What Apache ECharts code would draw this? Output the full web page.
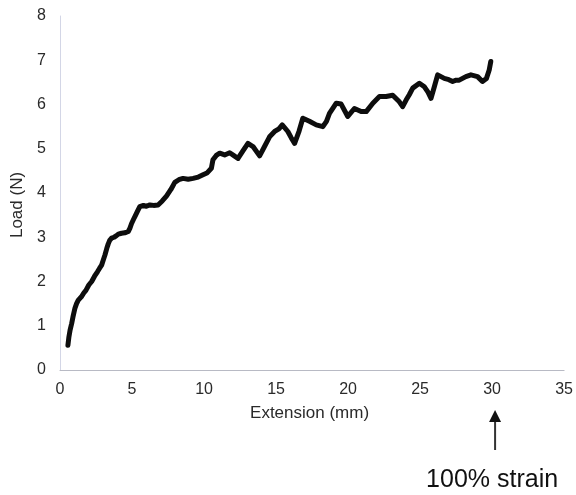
<!DOCTYPE html>
<html>
<head>
<meta charset="utf-8">
<script src="https://cdn.jsdelivr.net/npm/echarts@6/dist/echarts.min.js"></script>
<style>html,body{margin:0;padding:0;background:#fff;}#c{width:576px;height:495px;}</style>
</head>
<body>
<div id="c"></div>
<script>
const extension = [0.55,0.62,0.7,0.81,0.9,1.04,1.15,1.27,1.4,1.5,1.65,1.8,2.0,2.2,2.4,2.6,2.75,2.89,3.0,3.12,3.25,3.35,3.45,3.58,3.75,3.9,4.05,4.27,4.5,4.74,4.85,4.97,5.1,5.25,5.4,5.54,5.8,6.0,6.24,6.5,6.81,7.1,7.39,7.7,7.97,8.25,8.54,8.9,9.24,9.6,9.93,10.2,10.51,10.62,10.85,11.09,11.43,11.78,12.05,12.36,12.7,13.05,13.4,13.86,14.2,14.55,14.9,15.2,15.43,15.82,16.05,16.29,16.6,16.86,17.32,17.79,18.25,18.5,18.71,19.18,19.52,19.98,20.44,20.91,21.26,21.72,22.18,22.64,23.1,23.56,23.79,24.03,24.25,24.49,24.95,25.3,25.55,25.76,25.99,26.22,26.68,27.0,27.26,27.5,27.72,28.18,28.53,28.99,29.33,29.61,29.8,29.91];
const load = [0.56,0.75,0.9,1.05,1.2,1.4,1.5,1.58,1.62,1.66,1.74,1.8,1.92,2.0,2.12,2.22,2.3,2.37,2.48,2.6,2.75,2.85,2.93,2.98,3.0,3.03,3.07,3.09,3.1,3.13,3.2,3.31,3.4,3.5,3.6,3.69,3.72,3.7,3.73,3.72,3.73,3.82,3.93,4.08,4.24,4.3,4.33,4.31,4.33,4.36,4.41,4.45,4.56,4.75,4.85,4.9,4.86,4.91,4.85,4.78,4.95,5.12,5.05,4.84,5.05,5.27,5.39,5.45,5.54,5.39,5.25,5.12,5.4,5.69,5.62,5.54,5.5,5.62,5.8,6.03,6.01,5.73,5.91,5.84,5.84,6.03,6.18,6.18,6.21,6.06,5.95,6.1,6.22,6.37,6.48,6.4,6.28,6.14,6.4,6.67,6.59,6.56,6.52,6.55,6.55,6.63,6.67,6.63,6.52,6.59,6.78,6.97];
const xTicks = [0,5,10,15,20,25,30,35];
const yTicks = [0,1,2,3,4,5,6,7,8];
const strainX = 30;
const strainLabel = '100% strain';

const chart = echarts.init(document.getElementById('c'), null, {renderer:'canvas'});
const font = 'Liberation Sans, Arial, sans-serif';
const option = {
  animation:false,
  backgroundColor:'#fff',
  grid:{left:60,right:11,top:16,bottom:125,containLabel:false},
  xAxis:{
    type:'value',min:xTicks[0],max:xTicks[xTicks.length-1],interval:5,
    name:'Extension (mm)',nameLocation:'middle',nameGap:35,
    nameTextStyle:{fontFamily:font,fontSize:17,color:'#2a2a2a',padding:[0,5,0,0]},
    axisLine:{show:true,lineStyle:{color:'#b8bac4',width:1}},
    axisTick:{show:false},splitLine:{show:false},
    axisLabel:{fontFamily:font,fontSize:16,color:'#2a2a2a',margin:12}
  },
  yAxis:{
    type:'value',min:yTicks[0],max:yTicks[yTicks.length-1],interval:1,
    name:'Load (N)',nameLocation:'middle',nameGap:31,
    nameTextStyle:{fontFamily:font,fontSize:17,color:'#2a2a2a',padding:[0,0,0,-24]},
    axisLine:{show:true,lineStyle:{color:'#d3d6e6',width:1}},
    axisTick:{show:false},splitLine:{show:false},
    axisLabel:{fontFamily:font,fontSize:16,color:'#2a2a2a',margin:14}
  },
  series:[{
    type:'line',
    data:extension.map((x,i)=>[x,load[i]]),
    showSymbol:false,
    lineStyle:{color:'#0d0d0d',width:5,join:'round',cap:'round'}
  }]
};
chart.setOption(option);
const px = chart.convertToPixel({gridIndex:0},[strainX,0]);
chart.setOption({
  graphic:[
    {type:'line',shape:{x1:px[0]+3,y1:px[1]+80,x2:px[0]+3,y2:px[1]+50},style:{stroke:'#333',lineWidth:2}},
    {type:'polygon',shape:{points:[[px[0]+3,px[1]+40],[px[0]-3,px[1]+52],[px[0]+9,px[1]+52]]},style:{fill:'#111'}},
    {type:'text',x:px[0],y:px[1]+110,style:{text:strainLabel,font:'25px '+font,fill:'#111',align:'center',verticalAlign:'middle'}}
  ]
});
</script>
</body>
</html>
